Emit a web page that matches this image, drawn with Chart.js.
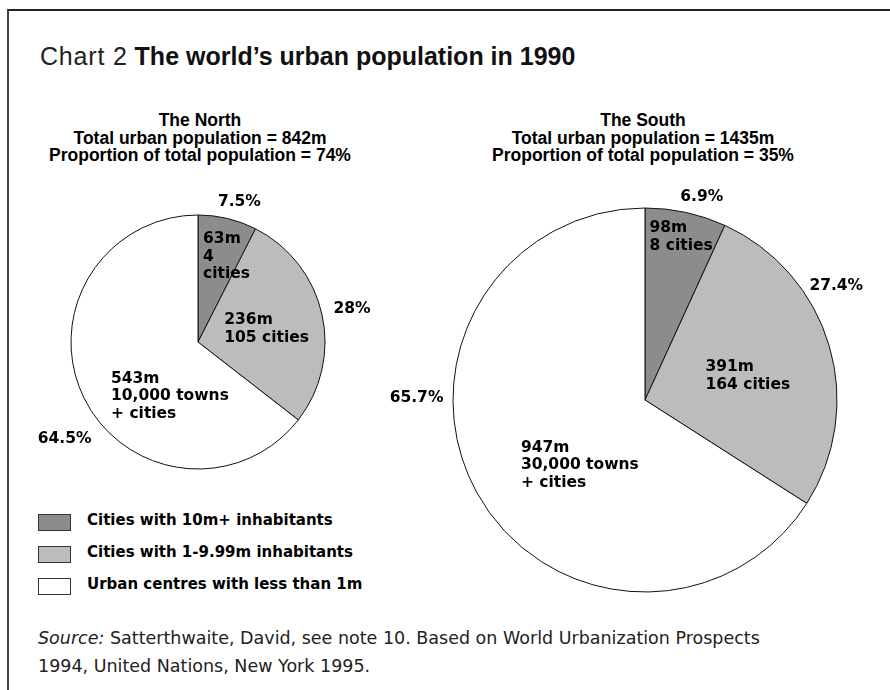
<!DOCTYPE html>
<html>
<head>
<meta charset="utf-8">
<script src="https://cdn.jsdelivr.net/npm/chart.js@4.4.1/dist/chart.umd.min.js"></script>
<style>
body { margin: 0; background: #fff; width: 890px; height: 690px; overflow: hidden; position: relative;
       font-family: "Liberation Sans", Arial, sans-serif; color: #111; }
#frame { position: absolute; left: 7px; top: 9px; width: 900px; height: 700px;
         border-top: 2px solid #222; border-left: 2px solid #444; }
#title { position: absolute; left: 40px; top: 44px; font-size: 25px; line-height: 25px; white-space: nowrap; }
#title .lead { letter-spacing: 0.8px; margin-right: 7px; color: #222; }
#title b { font-weight: bold; }
.sub { position: absolute; top: 112px; width: 360px; text-align: center; font-weight: bold;
       font-size: 17.5px; line-height: 17.5px; white-space: nowrap; color: #000; }
.pie { position: absolute; }
#legend { position: absolute; left: 38px; top: 512px; font-family: "DejaVu Sans", sans-serif;
          font-weight: bold; font-size: 15px; color: #000; }
.row { display: flex; align-items: center; height: 20px; margin-bottom: 12px; }
.box { box-sizing: border-box; width: 33px; height: 17px; border: 1px solid #333; margin-right: 16px; }
.row span { position: relative; top: -2px; }
#source { position: absolute; left: 38px; top: 624px; font-family: "DejaVu Sans", sans-serif;
          font-size: 17.5px; line-height: 28px; white-space: nowrap; color: #222; }
</style>
</head>
<body>
<div id="frame"></div>
<div id="title"><span class="lead">Chart 2</span><b>The world’s urban population in 1990</b></div>
<div class="sub" id="north-sub" style="left:20px"></div>
<div class="sub" id="south-sub" style="left:463px"></div>
<canvas id="north-chart" class="pie" width="380" height="300" style="left:18px;top:180px"></canvas>
<canvas id="south-chart" class="pie" width="490" height="425" style="left:380px;top:180px"></canvas>
<div id="legend"></div>
<div id="source"><i>Source:</i> Satterthwaite, David, see note 10. Based on World Urbanization Prospects<br>1994, United Nations, New York 1995.</div>

<script>
/* data */
const categories = ["Cities with 10m+ inhabitants", "Cities with 1-9.99m inhabitants", "Urban centres with less than 1m"];

const northPop = [63, 236, 543];
const northShare = ["7.5%", "28%", "64.5%"];
const northCount = ["4\ncities", "105 cities", "10,000 towns\n+ cities"];
const northTotal = 842;
const northProportion = 74;

const southPop = [98, 391, 947];
const southShare = ["6.9%", "27.4%", "65.7%"];
const southCount = ["8 cities", "164 cities", "30,000 towns\n+ cities"];
const southTotal = 1435;
const southProportion = 35;

const sliceColors = ["#8c8c8c", "#bcbcbc", "#ffffff"];

/* subtitles + legend */
document.getElementById("north-sub").innerHTML = "The North<br>Total urban population = " + northTotal +
    "m<br>Proportion of total population = " + northProportion + "%";
document.getElementById("south-sub").innerHTML = "The South<br>Total urban population = " + southTotal +
    "m<br>Proportion of total population = " + southProportion + "%";

let legendHtml = "";
categories.forEach((c, i) => {
    legendHtml += '<div class="row"><div class="box" style="background:' + sliceColors[i] + '"></div><span>' + c + '</span></div>';
});
document.getElementById("legend").innerHTML = legendHtml;

/* labels placed from each arc: [fraction of radius, degrees from the slice middle] */
const sliceLabels = {
    id: "sliceLabels",
    afterDatasetsDraw(chart, args, opts) {
        const ctx = chart.ctx;
        const arcs = chart.getDatasetMeta(0).data;
        const values = chart.data.datasets[0].data;
        ctx.save();
        ctx.font = 'bold 15.5px "DejaVu Sans"';
        ctx.fillStyle = "#000";
        ctx.textBaseline = "middle";
        ctx.textAlign = "left";
        arcs.forEach((arc, i) => {
            const p = arc.getProps(["x", "y", "startAngle", "endAngle", "outerRadius"], true);
            const mid = (p.startAngle + p.endAngle) / 2;
            const put = (lines, place) => {
                const a = mid + place[1] * Math.PI / 180;
                const cx = p.x + Math.cos(a) * p.outerRadius * place[0];
                const cy = p.y + Math.sin(a) * p.outerRadius * place[0];
                const w = Math.max(...lines.map(l => ctx.measureText(l).width));
                const lh = 17.5;
                const top = cy - lh * lines.length / 2;
                lines.forEach((l, j) => ctx.fillText(l, cx - w / 2, top + lh * (j + 0.5)));
            };
            put([values[i] + "m"].concat(opts.count[i].split("\n")), opts.innerPlace[i]);
            put([opts.share[i]], opts.outerPlace[i]);
        });
        ctx.restore();
    }
};

function pieOptions(padding, share, count, innerPlace, outerPlace) {
    return {
        responsive: false,
        animation: false,
        events: [],
        layout: { padding: padding },
        plugins: {
            legend: { display: false },
            tooltip: { enabled: false },
            sliceLabels: { share: share, count: count, innerPlace: innerPlace, outerPlace: outerPlace }
        }
    };
}

const northChart = new Chart(document.getElementById("north-chart"), {
    type: "pie",
    data: {
        labels: categories,
        datasets: [{
            data: northPop,
            backgroundColor: sliceColors,
            borderColor: "#111",
            borderWidth: 1,
            hoverBorderWidth: 1,
            hoverOffset: 0
        }]
    },
    options: pieOptions({ left: 52.5, top: 34.5, right: 72.5, bottom: 10.5 },
        northShare, northCount,
        [[0.71, 5], [0.55, 2], [0.48, -36.5]],
        [[1.15, 3], [1.24, 0.5], [1.30, -10]]),
    plugins: [sliceLabels]
});

const southChart = new Chart(document.getElementById("south-chart"), {
    type: "pie",
    data: {
        labels: categories,
        datasets: [{
            data: southPop,
            backgroundColor: sliceColors,
            borderColor: "#111",
            borderWidth: 1,
            hoverBorderWidth: 1,
            hoverOffset: 0
        }]
    },
    options: pieOptions({ left: 72.5, top: 27.5, right: 32.5, bottom: 12.5 },
        southShare, southCount,
        [[0.87, 0.2], [0.55, 3.2], [0.48, -16.3]],
        [[1.10, 3.3], [1.16, -14.4], [1.19, 29.1]]),
    plugins: [sliceLabels]
});
</script>
</body>
</html>
